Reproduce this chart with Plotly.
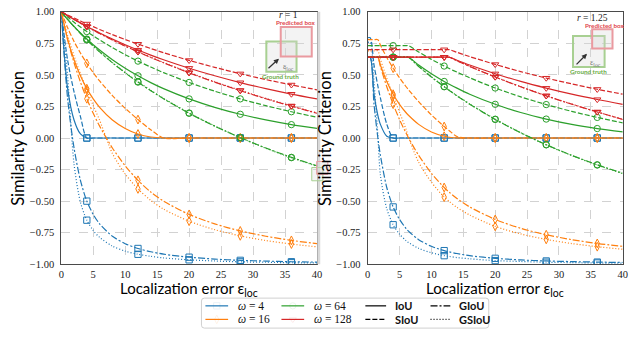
import plotly.graph_objects as go

# ---------------- data ----------------
X_LEFT = [0, 1, 2, 3, 4, 5, 6, 8, 10, 12, 14, 16, 20, 24, 28, 32, 36, 40]
X_RIGHT = [0, 0.4, 1, 1.6, 2, 3, 4, 5, 6, 6.4, 8, 10, 12, 12.8, 14, 16, 20, 24, 28, 32, 36, 40]
MARK_X = [4, 12, 20, 28, 36]
OMEGAS = [4, 16, 64, 128]
METRICS = ["IoU", "SIoU", "GIoU", "GSIoU"]
X_TICKS = [0, 5, 10, 15, 20, 25, 30, 35, 40]
Y_TICKS = [-1.0, -0.75, -0.5, -0.25, 0.0, 0.25, 0.5, 0.75, 1.0]

# left panel, r = 1
L_IOU_4 = [1, .391, .143, .032, 0, 0, 0, 0, 0, 0, 0, 0, 0, 0, 0, 0, 0, 0]
L_SIOU_4 = [1, .616, .366, .170, 0, 0, 0, 0, 0, 0, 0, 0, 0, 0, 0, 0, 0, 0]
L_GIOU_4 = [1, .311, -.079, -.335, -.500, -.605, -.680, -.778, -.837, -.875, -.901, -.920, -.944, -.959, -.969, -.975, -.980, -.983]
L_GSIOU_4 = [1, .485, -.207, -.508, -.651, -.732, -.787, -.856, -.896, -.921, -.937, -.950, -.965, -.974, -.981, -.984, -.988, -.989]

L_IOU_16 = [1, .784, .620, .493, .391, .310, .243, .143, .076, .032, .008, 0, 0, 0, 0, 0, 0, 0]
L_SIOU_16 = [1, .873, .765, .673, .591, .518, .452, .336, .236, .146, .066, 0, 0, 0, 0, 0, 0, 0]
L_GIOU_16 = [1, .777, .596, .443, .311, .196, .094, -.079, -.220, -.335, -.428, -.500, -.605, -.680, -.736, -.778, -.811, -.837]
L_GSIOU_16 = [1, .811, .651, .509, .379, .258, .141, -.122, -.285, -.403, -.494, -.563, -.659, -.726, -.775, -.812, -.840, -.862]

L_IOU_64 = [1, .940, .884, .832, .784, .739, .697, .620, .553, .493, .439, .391, .310, .243, .188, .143, .106, .076]
L_SIOU_64 = [1, .958, .917, .879, .843, .809, .777, .716, .660, .609, .562, .518, .440, .371, .310, .256, .208, .164]
L_GIOU_64 = [1, .939, .882, .828, .777, .728, .682, .596, .516, .443, .375, .311, .196, .094, .003, -.079, -.153, -.220]
L_GSIOU_64 = [1, .940, .883, .829, .779, .730, .684, .598, .519, .446, .378, .314, .198, .096, .003, -.081, -.156, -.223]

L_IOU_128 = [1, .969, .940, .912, .884, .858, .832, .784, .739, .697, .657, .620, .553, .493, .439, .391, .348, .310]
L_SIOU_128 = [1, .975, .950, .927, .904, .882, .860, .819, .780, .744, .709, .676, .615, .560, .509, .463, .421, .382]
L_GIOU_128 = [1, .969, .939, .910, .882, .855, .828, .777, .728, .682, .638, .596, .516, .443, .375, .311, .252, .196]
L_GSIOU_128 = [1, .969, .940, .911, .883, .856, .829, .778, .730, .684, .640, .598, .519, .446, .378, .314, .255, .199]

# right panel, r = 1.25
R_IOU_4 = [.64, .64, .347, .180, .108, .014, 0, 0, 0, 0, 0, 0, 0, 0, 0, 0, 0, 0, 0, 0, 0, 0]
R_SIOU_4 = [.794, .794, .579, .413, .317, .110, 0, 0, 0, 0, 0, 0, 0, 0, 0, 0, 0, 0, 0, 0, 0, 0]
R_GIOU_4 = [.64, .64, .268, .002, -.137, -.392, -.546, -.645, -.715, -.738, -.805, -.858, -.892, -.902, -.915, -.932, -.953, -.966, -.974, -.979, -.983, -.986]
R_GSIOU_4 = [.758, .758, .442, .024, -.292, -.560, -.687, -.762, -.812, -.828, -.874, -.909, -.932, -.938, -.947, -.957, -.971, -.978, -.984, -.987, -.990, -.991]

R_IOU_16 = [.64, .64, .64, .64, .578, .448, .347, .267, .202, .180, .108, .048, .014, .006, .0004, 0, 0, 0, 0, 0, 0, 0]
R_SIOU_16 = [.779, .779, .779, .779, .736, .638, .553, .477, .408, .383, .288, .183, .091, .058, .012, 0, 0, 0, 0, 0, 0, 0]
R_GIOU_16 = [.64, .64, .64, .64, .567, .406, .268, .147, .041, .002, -.137, -.279, -.392, -.430, -.479, -.546, -.645, -.715, -.766, -.805, -.835, -.858]
R_GSIOU_16 = [.690, .690, .690, .690, .624, .473, .335, .204, .071, .007, -.192, -.350, -.468, -.503, -.550, -.610, -.700, -.760, -.803, -.836, -.861, -.881]

R_IOU_64 = [.64, .64, .64, .64, .64, .64, .64, .64, .64, .64, .578, .509, .448, .426, .395, .347, .267, .202, .150, .108, .075, .048]
R_SIOU_64 = [.732, .732, .732, .732, .732, .732, .732, .732, .732, .732, .681, .623, .570, .550, .522, .477, .396, .326, .265, .211, .163, .120]
R_GIOU_64 = [.64, .64, .64, .64, .64, .64, .64, .64, .64, .64, .567, .483, .406, .377, .334, .268, .147, .041, -.053, -.137, -.212, -.279]
R_GSIOU_64 = [.642, .642, .642, .642, .642, .642, .642, .642, .642, .642, .569, .485, .408, .379, .336, .270, .149, .042, -.054, -.139, -.214, -.282]

R_IOU_128 = [.64, .64, .64, .64, .64, .64, .64, .64, .64, .64, .64, .64, .64, .64, .616, .578, .509, .448, .395, .347, .305, .267]
R_SIOU_128 = [.700, .700, .700, .700, .700, .700, .700, .700, .700, .700, .700, .700, .700, .700, .679, .645, .583, .526, .475, .429, .386, .347]
R_GIOU_128 = [.64, .64, .64, .64, .64, .64, .64, .64, .64, .64, .64, .64, .64, .64, .612, .567, .483, .406, .334, .268, .206, .147]
R_GSIOU_128 = [.641, .641, .641, .641, .641, .641, .641, .641, .641, .641, .641, .641, .641, .641, .613, .568, .484, .407, .335, .269, .207, .148]

LEFT = {
    4: [L_IOU_4, L_SIOU_4, L_GIOU_4, L_GSIOU_4],
    16: [L_IOU_16, L_SIOU_16, L_GIOU_16, L_GSIOU_16],
    64: [L_IOU_64, L_SIOU_64, L_GIOU_64, L_GSIOU_64],
    128: [L_IOU_128, L_SIOU_128, L_GIOU_128, L_GSIOU_128],
}
RIGHT = {
    4: [R_IOU_4, R_SIOU_4, R_GIOU_4, R_GSIOU_4],
    16: [R_IOU_16, R_SIOU_16, R_GIOU_16, R_GSIOU_16],
    64: [R_IOU_64, R_SIOU_64, R_GIOU_64, R_GSIOU_64],
    128: [R_IOU_128, R_SIOU_128, R_GIOU_128, R_GSIOU_128],
}

# ---------------- styles ----------------
W, H = 633, 337
COLORS = {4: "#1f77b4", 16: "#ff7f0e", 64: "#2ca02c", 128: "#d62728"}
SYMBOLS = {4: "square-open", 16: "diamond-tall-open", 64: "circle-open", 128: "triangle-down-open"}
DASHES = {"IoU": "solid", "SIoU": "5px,2px", "GIoU": "7px,2px,2px,2px", "GSIoU": "1px,2px"}
SERIF = "Liberation Serif"
SANS = "Lato"

# pixel geometry of the two axes boxes
PL = [59, 318]
PR = [369.3, 627.7]
PY = [7, 268]

fig = go.Figure()


def add_panel(xs, data, xa, ya):
    for om in OMEGAS:
        for k, met in enumerate(METRICS):
            ys = data[om][k]
            fig.add_trace(go.Scatter(
                x=xs, y=ys, mode="lines", xaxis=xa, yaxis=ya,
                line=dict(color=COLORS[om], width=1.2, dash=DASHES[met], shape="spline", smoothing=0.8),
                hoverinfo="skip", showlegend=False))
            mx = [x for x in xs if x in MARK_X]
            my = [y for x, y in zip(xs, ys) if x in MARK_X]
            fig.add_trace(go.Scatter(
                x=mx, y=my, mode="markers", xaxis=xa, yaxis=ya,
                marker=dict(symbol=SYMBOLS[om], size=6.3, color=COLORS[om], line=dict(width=1)),
                hoverinfo="skip", showlegend=False))


add_panel(X_LEFT, LEFT, "x", "y")
add_panel(X_RIGHT, RIGHT, "x2", "y2")

axis_common = dict(
    showline=True, mirror=True, linecolor="#4a4a4a", linewidth=1,
    showgrid=True, gridcolor="#d2d2d2", griddash="dash", gridwidth=0.8,
    zeroline=False, ticks="", tickfont=dict(family=SERIF, size=10.5, color="#222222"),
)
ydom = [(H - PY[1]) / H, (H - PY[0]) / H]
fig.update_layout(
    width=W, height=H, margin=dict(l=0, r=0, t=0, b=0),
    paper_bgcolor="white", plot_bgcolor="rgba(0,0,0,0)", showlegend=False,
    xaxis=dict(domain=[PL[0] / W, PL[1] / W], range=[0, 40], tickvals=X_TICKS, anchor="y",
               ticklabelstandoff=0, **axis_common),
    yaxis=dict(domain=ydom, range=[-1, 1], tickvals=Y_TICKS, tickformat=".2f", anchor="x",
               ticklabelstandoff=4, **axis_common),
    xaxis2=dict(domain=[PR[0] / W, PR[1] / W], range=[0, 40], tickvals=X_TICKS, anchor="y2",
                ticklabelstandoff=0, **axis_common),
    yaxis2=dict(domain=ydom, range=[-1, 1], tickvals=Y_TICKS, tickformat=".2f", anchor="x2",
                ticklabelstandoff=4, **axis_common),
    xaxis3=dict(domain=[0, 1], range=[0, W], visible=False, anchor="y3", fixedrange=True),
    yaxis3=dict(domain=[0, 1], range=[H, 0], visible=False, anchor="x3", fixedrange=True),
)

shapes = []
annotations = []


def px_rect(x0, y0, x1, y1, line_color, fill, width=1.0):
    shapes.append(dict(type="rect", xref="x3", yref="y3", x0=x0, y0=y0, x1=x1, y1=y1,
                       line=dict(color=line_color, width=width), fillcolor=fill, layer="above"))


def px_text(x, y, text, size, color="black", family=SANS, xanchor="center", angle=0, weight="normal",
            pad=1):
    annotations.append(dict(xref="x3", yref="y3", x=x, y=y, text=text, showarrow=False,
                            xanchor=xanchor, yanchor="middle", textangle=angle, borderpad=pad,
                            font=dict(family=family, size=size, color=color, weight=weight)))


# light band at the right edge of left panel
px_rect(318.3, PY[0], 321.3, PY[1], "rgba(0,0,0,0)", "#d9d9d9", 0)

# insets
GT_LINE = "#a8d092"
PB_LINE = "#ea9aa0"
BOX_FILL = "rgba(215,215,215,0.3)"
# left inset (r = 1)
px_rect(266.7, 37.7, 297.3, 69, GT_LINE, BOX_FILL, 2)
px_rect(281.3, 22.7, 312.7, 53.3, PB_LINE, BOX_FILL, 2)
px_text(296.5, 18.5, "Predicted box", 6.3, "#e0464c", weight="bold")
px_text(281.5, 73.5, "Ground truth", 6.3, "#6aac45", weight="bold")
px_text(289, 10.5, "<i>r</i> = 1", 9.5, "#222222", family=SERIF)
px_text(282, 64.5, "ε<sub>loc</sub>", 8, "#777777", family=SERIF, xanchor="left")
annotations.append(dict(xref="x3", yref="y3", x=279.5, y=55.5, ax=-12, ay=11, showarrow=True,
                        arrowhead=2, arrowsize=0.8, arrowwidth=1.3, arrowcolor="#333333", text=""))
# small duplicate at the panel edge
px_rect(312.7, 168, 324, 181.7, GT_LINE, BOX_FILL, 1)
px_rect(317.7, 161.7, 329, 175, PB_LINE, BOX_FILL, 1)

# right inset (r = 1.25)
px_rect(577.3, 32, 609.3, 64, GT_LINE, BOX_FILL, 2)
px_rect(596.7, 25, 617.3, 45, PB_LINE, BOX_FILL, 2)
px_text(609.5, 21, "Predicted box", 6.3, "#e0464c", weight="bold")
px_text(593, 69, "Ground truth", 6.3, "#6aac45", weight="bold")
px_text(597, 13, "<i>r</i> = 1.25", 9.5, "#222222", family=SERIF)
px_text(592.5, 59.5, "ε<sub>loc</sub>", 8, "#777777", family=SERIF, xanchor="left")
annotations.append(dict(xref="x3", yref="y3", x=591.5, y=50.5, ax=-12, ay=12, showarrow=True,
                        arrowhead=2, arrowsize=0.8, arrowwidth=1.3, arrowcolor="#333333", text=""))

# axis titles
for cx in [(PL[0] + PL[1]) / 2, (PR[0] + PR[1]) / 2]:
    px_text(cx, 294, "Localization error ε<sub>loc</sub>", 15, "black", pad=0)
px_text(15, (PY[0] + PY[1]) / 2, "Similarity Criterion", 16.5, "black", angle=-90)
px_text(326, (PY[0] + PY[1]) / 2, "Similarity Criterion", 16.5, "black", angle=-90)

# legend box
LX0, LX1, LY0, LY1, RR = 201, 492, 303, 334, 3
shapes.append(dict(type="path", xref="x3", yref="y3", layer="above",
                   path=(f"M {LX0+RR},{LY0} L {LX1-RR},{LY0} Q {LX1},{LY0} {LX1},{LY0+RR} "
                         f"L {LX1},{LY1-RR} Q {LX1},{LY1} {LX1-RR},{LY1} L {LX0+RR},{LY1} "
                         f"Q {LX0},{LY1} {LX0},{LY1-RR} L {LX0},{LY0+RR} Q {LX0},{LY0} {LX0+RR},{LY0} Z"),
                   line=dict(color="#d0d0d0", width=1), fillcolor="rgba(255,255,255,0.9)"))
ROWS = [311, 325]
OMEGA_COLS = [(205, 228), (282, 305)]
leg_mx, leg_my, leg_sym, leg_col = [], [], [], []
for i, om in enumerate(OMEGAS):
    c = OMEGA_COLS[i // 2]
    ry = ROWS[i % 2]
    shapes.append(dict(type="line", xref="x3", yref="y3", x0=c[0], x1=c[1], y0=ry, y1=ry,
                       line=dict(color=COLORS[om], width=1.2), layer="above"))
    leg_mx.append((c[0] + c[1]) / 2)
    leg_my.append(ry)
    leg_sym.append(SYMBOLS[om])
    leg_col.append(COLORS[om])
    px_text(c[1] + 8, ry, f"<i>ω</i> = {om}", 11.5, "#111111", family=SERIF, xanchor="left")
fig.add_trace(go.Scatter(x=leg_mx, y=leg_my, mode="markers", xaxis="x3", yaxis="y3",
                         marker=dict(symbol=leg_sym, size=6.3, color=leg_col, line=dict(width=1)),
                         hoverinfo="skip", showlegend=False))
MET_COLS = [(367, 388), (433, 453)]
for i, met in enumerate(METRICS):
    c = MET_COLS[i // 2]
    ry = ROWS[i % 2]
    shapes.append(dict(type="line", xref="x3", yref="y3", x0=c[0], x1=c[1], y0=ry, y1=ry,
                       line=dict(color="black", width=1.2, dash=DASHES[met]), layer="above"))
    px_text(c[1] + 7, ry, met, 11, "#111111", family=SANS, xanchor="left", weight="bold")

fig.update_layout(shapes=shapes, annotations=annotations)
fig.write_html("out.html")
